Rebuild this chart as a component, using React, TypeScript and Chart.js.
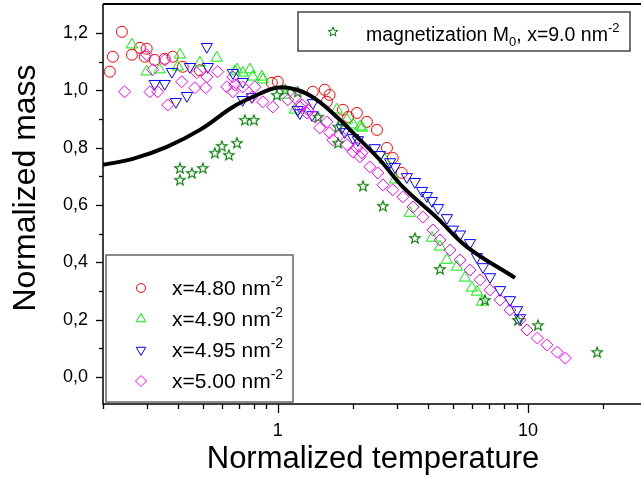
import React, { useEffect, useRef } from 'react';
import { Chart, registerables } from 'chart.js';

Chart.register(...registerables);

const FONT = '"Liberation Sans", Arial, Helvetica, sans-serif';

// ---- axis ticks ----
const xTickValues = [0.2, 0.3, 0.4, 0.5, 0.6, 0.7, 0.8, 0.9, 1, 2, 3, 4, 5, 6, 7, 8, 9, 10, 20];
const xMajorTicks = [1, 10];
const yTickValues = [0, 0.1, 0.2, 0.3, 0.4, 0.5, 0.6, 0.7, 0.8, 0.9, 1.0, 1.1, 1.2];
const yTickLabels = ['0,0', '0,2', '0,4', '0,6', '0,8', '1,0', '1,2'];

// ---- series: x = 4.80 nm^-2 (red circles) ----
const t480 = [0.213, 0.219, 0.238, 0.261, 0.281, 0.294, 0.299, 0.322, 0.353, 0.380, 0.417, 0.488, 0.946, 1.00, 1.38, 1.54, 1.57, 1.61, 1.82, 1.91, 2.07, 2.27, 2.49, 2.73, 2.88, 3.13];
const m480 = [1.065, 1.117, 1.204, 1.124, 1.148, 1.117, 1.145, 1.106, 1.110, 1.117, 1.082, 1.070, 1.026, 1.030, 0.995, 1.002, 0.960, 0.984, 0.932, 0.907, 0.921, 0.890, 0.862, 0.799, 0.764, 0.712];

// ---- x = 4.90 nm^-2 (green up triangles) ----
const t490 = [0.261, 0.299, 0.337, 0.398, 0.406, 0.488, 0.570, 0.673, 0.686, 0.724, 0.773, 0.794, 0.863, 0.871, 1.07, 1.17, 1.72, 1.89, 2.00, 2.13, 2.17, 2.68, 2.94, 3.37, 4.13, 4.45, 4.74, 5.20, 5.60, 5.97, 6.25, 6.55];
const m490 = [1.159, 1.065, 1.072, 1.082, 1.124, 1.096, 1.113, 1.065, 1.072, 1.061, 1.072, 1.047, 1.047, 1.037, 0.984, 0.932, 0.932, 0.897, 0.880, 0.873, 0.869, 0.757, 0.688, 0.572, 0.485, 0.454, 0.408, 0.384, 0.346, 0.311, 0.297, 0.262];

// ---- x = 4.95 nm^-2 (blue down triangles) ----
const t495 = [0.322, 0.353, 0.377, 0.391, 0.433, 0.445, 0.520, 0.525, 0.661, 0.724, 0.724, 0.787, 1.20, 1.225, 1.37, 1.38, 1.80, 1.85, 2.00, 2.09, 2.44, 2.56, 2.81, 2.94, 3.28, 3.53, 3.77, 3.94, 4.13, 4.37, 4.74, 5.01, 5.35, 5.86, 6.25, 6.61, 7.05, 7.73, 8.47, 9.04, 9.29];
const m495 = [1.023, 1.023, 1.065, 0.960, 0.981, 1.082, 1.152, 1.082, 1.061, 1.030, 0.967, 0.977, 0.932, 0.921, 0.914, 0.956, 0.869, 0.855, 0.834, 0.827, 0.799, 0.775, 0.750, 0.733, 0.698, 0.681, 0.650, 0.632, 0.615, 0.590, 0.555, 0.515, 0.498, 0.468, 0.419, 0.384, 0.349, 0.304, 0.269, 0.234, 0.206];

// ---- x = 5.00 nm^-2 (magenta diamonds) ----
const t500 = [0.244, 0.299, 0.308, 0.316, 0.331, 0.353, 0.363, 0.413, 0.466, 0.474, 0.515, 0.520, 0.575, 0.625, 0.661, 0.661, 0.673, 0.724, 0.787, 0.809, 0.871, 0.955, 1.096, 1.17, 1.225, 1.25, 1.306, 1.32, 1.41, 1.47, 1.57, 1.61, 1.66, 1.77, 1.89, 2.00, 2.07, 2.13, 2.17, 2.33, 2.51, 2.63, 2.88, 3.16, 3.47, 3.80, 4.17, 4.45, 4.88, 5.35, 5.86, 6.43, 7.05, 7.73, 8.47, 9.29, 9.91, 10.9, 11.9, 13.1, 14.1];
const m500 = [0.995, 1.124, 0.995, 1.072, 0.995, 1.106, 0.949, 1.030, 1.009, 1.061, 1.009, 1.047, 1.065, 1.012, 1.047, 0.995, 1.019, 1.012, 0.977, 1.012, 0.960, 0.942, 0.967, 0.974, 0.942, 0.949, 0.921, 0.932, 0.907, 0.869, 0.890, 0.852, 0.827, 0.845, 0.810, 0.785, 0.799, 0.768, 0.782, 0.733, 0.712, 0.670, 0.653, 0.628, 0.593, 0.558, 0.513, 0.478, 0.443, 0.408, 0.373, 0.339, 0.304, 0.269, 0.234, 0.199, 0.164, 0.136, 0.112, 0.087, 0.066];

// ---- magnetization M0, x = 9.0 nm^-2 (stars) ----
const tMag = [0.406, 0.406, 0.453, 0.501, 0.560, 0.597, 0.637, 0.686, 0.738, 0.802, 0.991, 1.07, 1.20, 1.45, 1.74, 1.74, 2.19, 2.63, 3.53, 4.45, 6.73, 9.12, 10.96, 18.9];
const mMag = [0.688, 0.729, 0.712, 0.729, 0.782, 0.806, 0.775, 0.817, 0.897, 0.897, 0.984, 1.002, 0.995, 0.908, 0.873, 0.817, 0.667, 0.597, 0.485, 0.377, 0.269, 0.199, 0.181, 0.087];

// ---- black model curve ----
const tCurve = [0.2, 0.263, 0.36, 0.488, 0.661, 0.794, 0.99, 1.19, 1.43, 1.77, 2.07, 2.56, 3.16, 4.33, 5.70, 8.87];
const mCurve = [0.740, 0.761, 0.803, 0.862, 0.942, 0.977, 1.009, 1.002, 0.967, 0.897, 0.838, 0.757, 0.663, 0.555, 0.454, 0.346];

const seriesLabels = ['x=4.80 nm', 'x=4.90 nm', 'x=4.95 nm', 'x=5.00 nm'];
const magLabel = ['magnetization M', '0', ', x=9.0 nm', '-2'];
const xTitle = 'Normalized temperature';
const yTitle = 'Normalized mass';

const RED = '#ff0000';
const GREEN = '#00f000';
const BLUE = '#0000ff';
const MAGENTA = '#ff00ff';
const STAR = '#007a00';

const pts = (xs: number[], ys: number[]) => xs.map((x, i) => ({ x, y: ys[i] }));

function starPath(ctx: CanvasRenderingContext2D, cx: number, cy: number, R: number) {
  const r = R * 0.42;
  ctx.beginPath();
  for (let i = 0; i < 10; i++) {
    const a = -Math.PI / 2 + (i * Math.PI) / 5;
    const rad = i % 2 === 0 ? R : r;
    const px = cx + rad * Math.cos(a);
    const py = cy + rad * Math.sin(a);
    if (i === 0) ctx.moveTo(px, py);
    else ctx.lineTo(px, py);
  }
  ctx.closePath();
}

function makeStar(R: number, color: string) {
  const size = Math.ceil(R * 2 + 3);
  const c = document.createElement('canvas');
  c.width = size;
  c.height = size;
  const ctx = c.getContext('2d')!;
  ctx.strokeStyle = color;
  ctx.lineWidth = 1.1;
  starPath(ctx, size / 2, size / 2 + 0.5, R);
  ctx.stroke();
  return c;
}

function drawMarker(ctx: CanvasRenderingContext2D, kind: string, x: number, y: number, r: number, color: string) {
  ctx.save();
  ctx.strokeStyle = color;
  ctx.lineWidth = 1;
  ctx.beginPath();
  if (kind === 'circle') {
    ctx.arc(x, y, r, 0, Math.PI * 2);
  } else if (kind === 'up') {
    ctx.moveTo(x, y - r);
    ctx.lineTo(x + r * 0.866, y + r * 0.5);
    ctx.lineTo(x - r * 0.866, y + r * 0.5);
    ctx.closePath();
  } else if (kind === 'down') {
    ctx.moveTo(x, y + r);
    ctx.lineTo(x + r * 0.866, y - r * 0.5);
    ctx.lineTo(x - r * 0.866, y - r * 0.5);
    ctx.closePath();
  } else if (kind === 'diamond') {
    ctx.moveTo(x, y - r);
    ctx.lineTo(x + r, y);
    ctx.lineTo(x, y + r);
    ctx.lineTo(x - r, y);
    ctx.closePath();
  } else if (kind === 'star') {
    starPath(ctx, x, y, r);
  }
  ctx.stroke();
  ctx.restore();
}

function drawRich(ctx: CanvasRenderingContext2D, parts: [string, number, number][], x: number, y: number) {
  let cx = x;
  for (const [t, size, dy] of parts) {
    ctx.font = `${size}px ${FONT}`;
    ctx.fillText(t, cx, y + dy);
    cx += ctx.measureText(t).width;
  }
}

const decorPlugin = {
  id: 'decor',
  afterDraw(chart: any) {
    const ctx: CanvasRenderingContext2D = chart.ctx;
    const { left, right, top, bottom } = chart.chartArea;
    const xs = chart.scales.x;
    const ys = chart.scales.y;
    ctx.save();
    ctx.strokeStyle = '#000';
    ctx.fillStyle = '#000';

    // frame
    ctx.lineWidth = 2;
    ctx.beginPath();
    ctx.moveTo(left, top);
    ctx.lineTo(right, top);
    ctx.stroke();
    ctx.lineWidth = 1.5;
    ctx.beginPath();
    ctx.moveTo(left, top);
    ctx.lineTo(left, bottom);
    ctx.lineTo(right, bottom);
    ctx.stroke();

    // tick marks
    ctx.lineWidth = 1.3;
    for (const v of xTickValues) {
      const px = Math.round(xs.getPixelForValue(v)) + 0.5;
      const len = xMajorTicks.includes(v) ? 9 : 5;
      ctx.beginPath();
      ctx.moveTo(px, bottom);
      ctx.lineTo(px, bottom + len);
      ctx.stroke();
    }
    yTickValues.forEach((v, i) => {
      const py = Math.round(ys.getPixelForValue(v)) + 0.5;
      const len = i % 2 === 0 ? 7 : 4;
      ctx.beginPath();
      ctx.moveTo(left, py);
      ctx.lineTo(left - len, py);
      ctx.stroke();
    });

    // axis titles
    ctx.textBaseline = 'alphabetic';
    ctx.textAlign = 'center';
    ctx.font = `31px ${FONT}`;
    ctx.fillText(xTitle, (left + right) / 2 + 1, 468);
    ctx.save();
    ctx.translate(35, 188);
    ctx.rotate(-Math.PI / 2);
    ctx.font = `32px ${FONT}`;
    ctx.fillText(yTitle, 0, 0);
    ctx.restore();

    // legend 1 (magnetization)
    ctx.textAlign = 'left';
    ctx.fillStyle = '#fff';
    ctx.fillRect(298, 12, 332, 39);
    ctx.strokeStyle = '#444';
    ctx.lineWidth = 1.5;
    ctx.strokeRect(298, 12, 332, 39);
    drawMarker(ctx, 'star', 333, 32, 5, STAR);
    ctx.fillStyle = '#000';
    drawRich(ctx, [[magLabel[0], 19.5, 0], [magLabel[1], 13, 5], [magLabel[2], 19.5, 0], [magLabel[3], 13, -9]], 366, 41);

    // legend 2 (series)
    ctx.fillStyle = '#fff';
    ctx.fillRect(106, 255, 187, 147);
    ctx.strokeStyle = '#666';
    ctx.lineWidth = 1.5;
    ctx.strokeRect(106, 255, 187, 147);
    const kinds = ['circle', 'up', 'down', 'diamond'];
    const colors = [RED, GREEN, BLUE, MAGENTA];
    seriesLabels.forEach((lab, i) => {
      const y = 288 + i * 31;
      drawMarker(ctx, kinds[i], 141, y, kinds[i] === 'circle' ? 4.5 : 5.5, colors[i]);
      ctx.fillStyle = '#000';
      drawRich(ctx, [[lab, 21, 0], ['-2', 14, -9]], 172, y + 7);
    });

    ctx.restore();
  },
};

export default function App() {
  const ref = useRef<HTMLCanvasElement>(null);
  useEffect(() => {
    document.body.style.margin = '0';
    const canvas = ref.current!;
    const starImg = makeStar(5.5, STAR);
    const scatterBase = {
      showLine: false,
      pointBackgroundColor: 'rgba(0,0,0,0)',
      pointBorderWidth: 1,
    };
    const chart = new Chart(canvas, {
      type: 'scatter',
      data: {
        datasets: [
          {
            label: 'model',
            data: pts(tCurve, mCurve),
            showLine: true,
            borderColor: '#000',
            borderWidth: 4,
            pointRadius: 0,
            tension: 0.4,
            fill: false,
          },
          {
            ...scatterBase,
            label: magLabel.join(''),
            data: pts(tMag, mMag),
            pointStyle: starImg,
            pointRadius: 5.5,
            borderColor: STAR,
          },
          {
            ...scatterBase,
            label: seriesLabels[3],
            data: pts(t500, m500),
            pointStyle: 'rectRot',
            pointRadius: 6,
            pointBorderColor: MAGENTA,
            borderColor: MAGENTA,
          },
          {
            ...scatterBase,
            label: seriesLabels[2],
            data: pts(t495, m495),
            pointStyle: 'triangle',
            pointRotation: 180,
            pointRadius: 6.5,
            pointBorderColor: BLUE,
            borderColor: BLUE,
          },
          {
            ...scatterBase,
            label: seriesLabels[1],
            data: pts(t490, m490),
            pointStyle: 'triangle',
            pointRadius: 6.5,
            pointBorderColor: GREEN,
            borderColor: GREEN,
          },
          {
            ...scatterBase,
            label: seriesLabels[0],
            data: pts(t480, m480),
            pointStyle: 'circle',
            pointRadius: 5.5,
            pointBorderColor: RED,
            borderColor: RED,
          },
        ] as any,
      },
      options: {
        animation: false,
        responsive: false,
        events: [],
        layout: { autoPadding: false, padding: { top: 4, left: 0, right: 0, bottom: 0 } },
        plugins: { legend: { display: false }, tooltip: { enabled: false } },
        scales: {
          x: {
            type: 'logarithmic',
            min: 0.2,
            max: 28.3,
            grid: { display: false, drawTicks: false },
            border: { display: false },
            afterBuildTicks: (s: any) => {
              s.ticks = xTickValues.map((v) => ({ value: v }));
            },
            afterFit: (s: any) => {
              s.height = 74;
              s.paddingLeft = 0;
              s.paddingRight = 0;
            },
            ticks: {
              autoSkip: false,
              maxRotation: 0,
              minRotation: 0,
              padding: 16,
              color: '#000',
              font: { family: FONT, size: 18 },
              callback: (v: any) => (xMajorTicks.includes(Number(v)) ? String(v) : ''),
            },
          },
          y: {
            type: 'linear',
            min: -0.094,
            max: 1.301,
            grid: { display: false, drawTicks: false },
            border: { display: false },
            afterBuildTicks: (s: any) => {
              s.ticks = yTickValues.map((v) => ({ value: v }));
            },
            afterFit: (s: any) => {
              s.width = 103;
              s.paddingTop = 0;
              s.paddingBottom = 0;
            },
            ticks: {
              autoSkip: false,
              padding: 15,
              color: '#000',
              font: { family: FONT, size: 18 },
              callback: (v: any) => {
                const k = Math.round(Number(v) * 10);
                return k % 2 === 0 ? yTickLabels[k / 2] : '';
              },
            },
          },
        },
      } as any,
      plugins: [decorPlugin],
    });
    return () => chart.destroy();
  }, []);
  return <canvas ref={ref} width={641} height={478} style={{ display: 'block', width: '641px', height: '478px' }} />;
}
